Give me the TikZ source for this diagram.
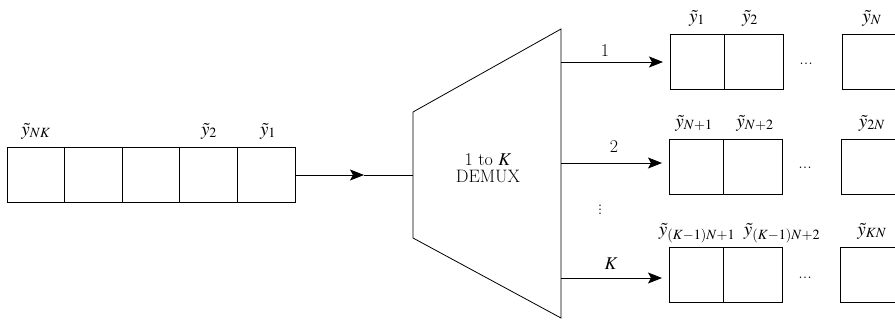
\documentclass[tikz,border=0pt]{standalone}
\usepackage{mathptmx}
\usetikzlibrary{arrows.meta}

\begin{document}
\begin{tikzpicture}[x=1pt, y=-1pt,
    cell/.style={draw, line width=0.8pt, minimum height=55pt, inner sep=0pt, outer sep=0pt, anchor=north west},
    lbl/.style={anchor=base, inner sep=0pt, font=\fontsize{19}{21}\selectfont},
    txt/.style={font=\fontsize{18}{20}\selectfont, align=center},
    arr/.style={-{Stealth[length=14pt, width=11pt, inset=3pt]}, line width=0.8pt},
    line width=0.8pt
]
\useasboundingbox (0,0) rectangle (895,324);
\clip (0,0) rectangle (895,324);

% input register
\foreach \i in {1,...,5}
    \node[cell, minimum width=57.6pt] (r\i) at ({7+(\i-1)*57.6},147) {};
\node[lbl] at (36,135) {$\tilde{y}_{NK}$};
\node[lbl] at (209,135) {$\tilde{y}_2$};
\node[lbl] at (268,135) {$\tilde{y}_1$};

% demultiplexer
\coordinate (tl) at (413,112);
\coordinate (bl) at (413,238);
\coordinate (tr) at (561,29);
\coordinate (br) at (561,318);
\draw (tl) -- (tr) -- (br) -- (bl) -- cycle;
\node[txt] (demux) at (488,168) {1 to $K$\\[-3pt]DEMUX};

\coordinate (in) at (413,175);
\coordinate (mid) at (364,175);
\draw[arr] (r5.east |- in) -- (mid);
\draw (mid) -- (in);

% output registers
\node[cell, minimum width=54pt] (a1) at (670,34) {};
\node[cell, minimum width=59pt] (a2) at (a1.north east) {};
\node[cell, minimum width=60pt] (aN) at (842,34) {};
\node[txt] at (806,64) {...};
\node[lbl] at (697,22) {$\tilde{y}_1$};
\node[lbl] at (750,22) {$\tilde{y}_2$};
\node[lbl] at (872,22) {$\tilde{y}_N$};

\node[cell, minimum width=54pt] (b1) at (669,139) {};
\node[cell, minimum width=59pt] (b2) at (b1.north east) {};
\node[cell, minimum width=60pt] (bN) at (841,139) {};
\node[txt] at (805,168) {...};
\node[lbl] at (694,127) {$\tilde{y}_{N+1}$};
\node[lbl] at (755,127) {$\tilde{y}_{N+2}$};
\node[lbl] at (872,127) {$\tilde{y}_{2N}$};

\node[cell, minimum width=54pt] (c1) at (669,247) {};
\node[cell, minimum width=59pt] (c2) at (c1.north east) {};
\node[cell, minimum width=60pt] (cN) at (840,247) {};
\node[txt] at (805,278) {...};
\node[lbl] at (697,235) {$\tilde{y}_{(K-1)N+1}$};
\node[lbl] at (782,235) {$\tilde{y}_{(K-1)N+2}$};
\node[lbl] at (872,235) {$\tilde{y}_{KN}$};

% outputs
\coordinate (o1) at (561,62);
\coordinate (o2) at (561,163);
\coordinate (oK) at (561,278);
\draw[arr, shorten >=7pt] (o1) -- (o1 -| a1.west);
\draw[arr, shorten >=7pt] (o2) -- (o2 -| b1.west);
\draw[arr, shorten >=7pt] (oK) -- (oK -| c1.west);
\node[txt] at (605,51) {1};
\node[txt] at (614,147) {2};
\node[txt] at (611,264) {$K$};
\node[txt] at (600,207) {$\vdots$};
\end{tikzpicture}
\end{document}
